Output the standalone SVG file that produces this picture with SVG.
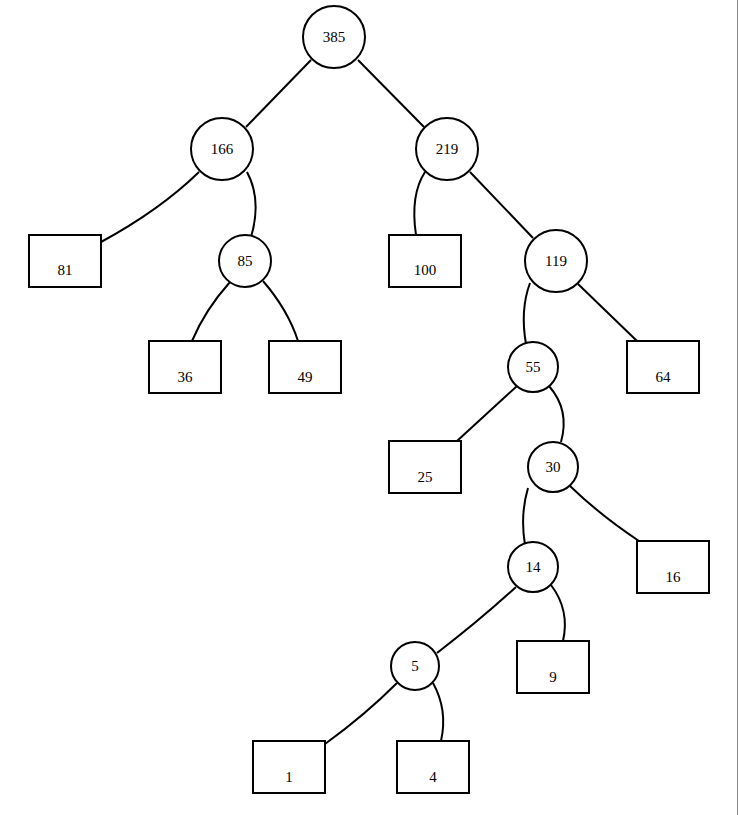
<svg xmlns="http://www.w3.org/2000/svg" width="739" height="815" viewBox="0 0 739 815">
<style>
.n circle,.n rect{fill:#fff;stroke:#000;stroke-width:2}
text{font-family:"Liberation Serif",serif;font-size:15px;text-anchor:middle;fill:#000}
#edges path{fill:none;stroke:#000;stroke-width:2}
</style>
<rect width="739" height="815" fill="#fff"/>
<line x1="737.5" y1="0" x2="737.5" y2="815" stroke="#888" stroke-width="1"/>
<g id="edges">
<path d="M311,60 L246,127"/>
<path d="M358,60 L424,127"/>
<path d="M199,172 Q160,210 101,242"/>
<path d="M247,172 Q262,200 251,237"/>
<path d="M425,172 Q410,195 416,235"/>
<path d="M470,172 L533,238"/>
<path d="M230,282 Q205,310 192,341"/>
<path d="M263,281 Q288,310 298,341"/>
<path d="M530,283 Q520,310 526,344"/>
<path d="M578,284 L637,341"/>
<path d="M517,386 L457,441"/>
<path d="M549,386 Q570,410 561,442"/>
<path d="M528,488 Q520,515 525,545"/>
<path d="M570,486 Q600,515 639,541"/>
<path d="M516,587 Q480,620 437,653"/>
<path d="M551,585 Q570,610 563,641"/>
<path d="M397,683 Q365,715 325,744"/>
<path d="M433,683 Q448,710 441,741"/>
</g>
<g id="n385" class="n"><circle cx="334" cy="37" r="31"/><text x="334" y="42">385</text></g>
<g id="n166" class="n"><circle cx="222" cy="149" r="31"/><text x="222" y="154">166</text></g>
<g id="n219" class="n"><circle cx="447" cy="149" r="31"/><text x="447" y="154">219</text></g>
<g id="n85" class="n"><circle cx="245" cy="261" r="26"/><text x="245" y="266">85</text></g>
<g id="n119" class="n"><circle cx="556" cy="261" r="31"/><text x="556" y="266">119</text></g>
<g id="n55" class="n"><circle cx="533" cy="367" r="25"/><text x="533" y="372">55</text></g>
<g id="n30" class="n"><circle cx="553" cy="467" r="25"/><text x="553" y="472">30</text></g>
<g id="n14" class="n"><circle cx="533" cy="567" r="25"/><text x="533" y="572">14</text></g>
<g id="n5" class="n"><circle cx="415" cy="666" r="24"/><text x="415" y="671">5</text></g>
<g id="n81" class="n"><rect x="29" y="235" width="72" height="52"/><text x="65" y="275">81</text></g>
<g id="n36" class="n"><rect x="149" y="341" width="72" height="52"/><text x="185" y="382">36</text></g>
<g id="n49" class="n"><rect x="269" y="341" width="72" height="52"/><text x="305" y="382">49</text></g>
<g id="n100" class="n"><rect x="389" y="235" width="72" height="52"/><text x="425" y="275">100</text></g>
<g id="n64" class="n"><rect x="627" y="341" width="72" height="52"/><text x="663" y="382">64</text></g>
<g id="n25" class="n"><rect x="389" y="441" width="72" height="52"/><text x="425" y="482">25</text></g>
<g id="n16" class="n"><rect x="637" y="541" width="72" height="52"/><text x="673" y="582">16</text></g>
<g id="n9" class="n"><rect x="517" y="641" width="72" height="52"/><text x="553" y="682">9</text></g>
<g id="n1" class="n"><rect x="253" y="741" width="72" height="52"/><text x="289" y="782">1</text></g>
<g id="n4" class="n"><rect x="397" y="741" width="72" height="52"/><text x="433" y="782">4</text></g>
</svg>
